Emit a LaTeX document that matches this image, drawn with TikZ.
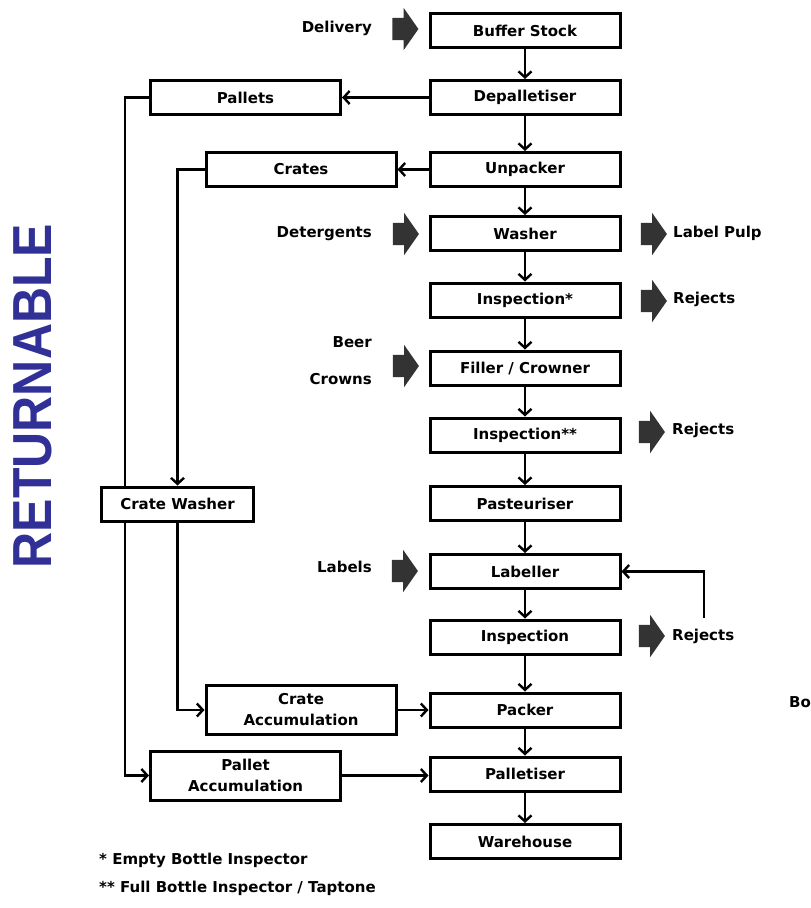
\documentclass[tikz,border=0pt]{standalone}
\usepackage{fontspec}
\setmainfont{DejaVu Sans}
\newfontfamily\titlefont{Liberation Sans}
\usepackage{graphicx}
\usetikzlibrary{arrows.meta,shapes.arrows}
\definecolor{retblue}{RGB}{48,48,150}
\begin{document}
\begin{tikzpicture}[x=1pt,y=-1pt,
  box/.style={draw, line width=3pt, fill=white, minimum width=190pt, minimum height=34pt,
    inner sep=0pt, align=center, font=\fontsize{15}{21}\selectfont\bfseries},
  flow/.style={line width=2.4pt, -{Straight Barb[length=6pt,width=13pt]}},
  fat/.style={single arrow, fill=black!80, draw=none, minimum height=26pt,
    single arrow head extend=10pt, single arrow tip angle=110, inner xsep=0pt, inner ysep=11pt},
  lbl/.style={font=\fontsize{15}{18}\selectfont\bfseries, inner sep=0pt, text height=11pt, text depth=3pt}]
\useasboundingbox (0,0) rectangle (811,908);
\clip (0,0) rectangle (811,908);
% main line
\node[box] (buffer) at (525,30.5) {Buffer Stock};
\node[box] (depal) at (525,97.5) {Depalletiser};
\node[box] (unpack) at (525,169.5) {Unpacker};
\node[box] (washer) at (525,233.5) {Washer};
\node[box] (insp1) at (525,300) {Inspection*};
\node[box] (filler) at (525,368) {Filler / Crowner};
\node[box] (insp2) at (525,435) {Inspection**};
\node[box] (pasteur) at (525,503.5) {Pasteuriser};
\node[box] (labeller) at (525,571.5) {Labeller};
\node[box] (insp3) at (525,637) {Inspection};
\node[box] (packer) at (525,710) {Packer};
\node[box] (palletiser) at (525,774) {Palletiser};
\node[box] (warehouse) at (525,841.5) {Warehouse};
% returnables
\node[box] (pallets) at (245.5,97.5) {Pallets};
\node[box] (crates) at (301,169.5) {Crates};
\node[box, minimum width=152pt] (cwasher) at (177.5,504) {Crate Washer};
\node[box, minimum height=49pt] (caccum) at (301,710) {Crate\\Accumulation};
\node[box, minimum height=49pt] (paccum) at (245.5,775.5) {Pallet\\Accumulation};
\draw[flow] (buffer) -- (depal);
\draw[flow] (depal) -- (unpack);
\draw[flow] (unpack) -- (washer);
\draw[flow] (washer) -- (insp1);
\draw[flow] (insp1) -- (filler);
\draw[flow] (filler) -- (insp2);
\draw[flow] (insp2) -- (pasteur);
\draw[flow] (pasteur) -- (labeller);
\draw[flow] (labeller) -- (insp3);
\draw[flow] (insp3) -- (packer);
\draw[flow] (packer) -- (palletiser);
\draw[flow] (palletiser) -- (warehouse);
\draw[flow] (depal) -- (pallets);
\draw[flow] (unpack) -- (crates);
\draw[line width=2.4pt] (pallets.west) -| ([xshift=25pt]cwasher.north west);
\draw[flow] (crates.west) -| (cwasher.north);
\draw[flow] ([xshift=25pt]cwasher.south west) |- (paccum.west);
\draw[flow] (cwasher.south) |- (caccum.west);
\draw[flow] (caccum) -- (packer);
\draw[flow] (paccum.east) -- (paccum.east -| palletiser.west);
\coordinate (loop) at (704,618);
\draw[flow] (loop) |- (labeller.east);
% inputs and outputs
\node[fat] (fdelivery) at (401.5,29) {};
\node[lbl, anchor=east] (delivery) at (372,28) {Delivery};
\node[fat] (fdeterg) at (402,234) {};
\node[lbl, anchor=east] (deterg) at (372,233) {Detergents};
\node[fat] (fpulp) at (650,234) {};
\node[lbl, anchor=west] (pulp) at (673,233) {Label Pulp};
\node[fat] (frej1) at (650,301) {};
\node[lbl, anchor=west] (rej1) at (673,299) {Rejects};
\node[fat] (fbeer) at (402,366) {};
\node[lbl, anchor=east] (beer) at (372,343) {Beer};
\node[lbl, anchor=east] (crowns) at (372,380) {Crowns};
\node[fat] (frej2) at (648,432) {};
\node[lbl, anchor=west] (rej2) at (672,430) {Rejects};
\node[fat] (flabels) at (401,571) {};
\node[lbl, anchor=east] (labels) at (372,568) {Labels};
\node[fat] (frej3) at (648,636) {};
\node[lbl, anchor=west] (rej3) at (672,636) {Rejects};
\node[lbl, anchor=west] (bo) at (789,703) {Bo};
% notes
\node[lbl, anchor=west] (note1) at (99,860) {* Empty Bottle Inspector};
\node[lbl, anchor=west] (note2) at (99,888) {** Full Bottle Inspector / Taptone};
\node[rotate=90, text=retblue, inner sep=0pt, font=\titlefont\fontsize{50}{50}\selectfont\bfseries]
  (returnable) at (33,396) {\scalebox{1}[1.1]{RETURNABLE}};
\end{tikzpicture}
\end{document}
